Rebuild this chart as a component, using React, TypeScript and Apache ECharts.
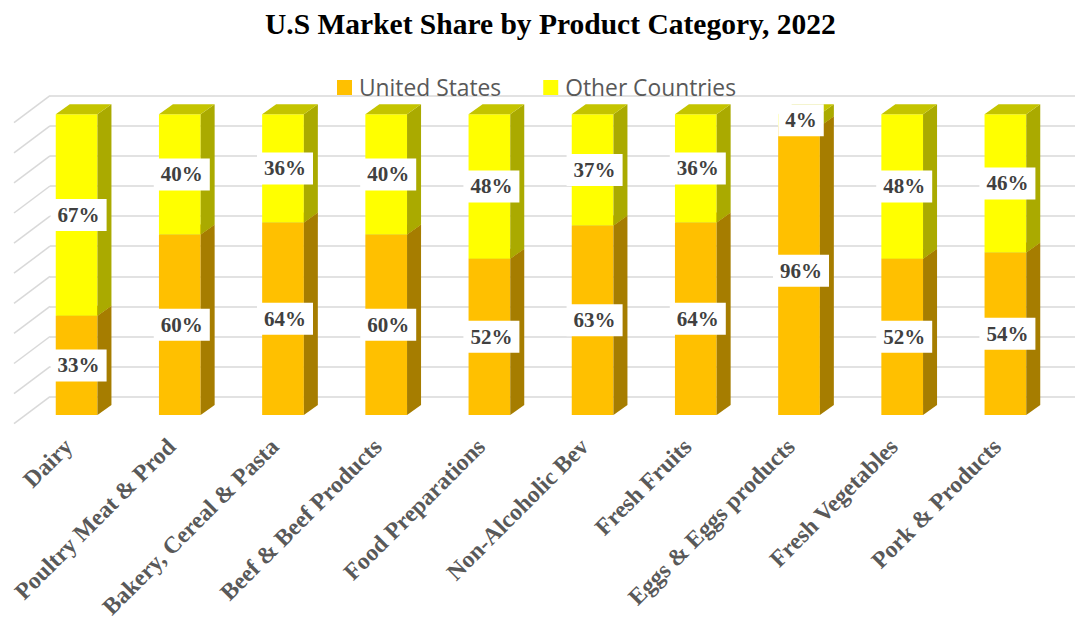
import React, { useEffect, useRef } from "react";
import * as echarts from "echarts";

const categories = [
  "Dairy",
  "Poultry Meat & Prod",
  "Bakery, Cereal & Pasta",
  "Beef & Beef Products",
  "Food Preparations",
  "Non-Alcoholic Bev",
  "Fresh Fruits",
  "Eggs & Eggs products",
  "Fresh Vegetables",
  "Pork & Products",
];
const unitedStates = [33, 60, 64, 60, 52, 63, 64, 96, 52, 54];
const otherCountries = [67, 40, 36, 40, 48, 37, 36, 4, 48, 46];
const gridTicks = [0, 10, 20, 30, 40, 50, 60, 70, 80, 90, 100];

const DEPTH_X = 14;
const DEPTH_Y = 10;
const WALL_DX = 36;
const WALL_DY = 27;

function makeBarRenderer(front: string, side: string, top: string) {
  return (params: any, api: any) => {
    const i = api.value(0);
    const base = api.value(1);
    const val = api.value(2);
    const p0 = api.coord([i, base]);
    const p1 = api.coord([i, base + val]);
    const band = api.size([1, 0])[0];
    const w = band * 0.404;
    const xl = p0[0] - w / 2;
    const xr = xl + w;
    const yb = p0[1];
    const yt = p1[1];
    return {
      type: "group",
      children: [
        {
          type: "rect",
          shape: { x: xl, y: yt, width: w, height: yb - yt },
          style: { fill: front },
        },
        {
          type: "polygon",
          shape: {
            points: [
              [xr, yb],
              [xr + DEPTH_X, yb - DEPTH_Y],
              [xr + DEPTH_X, yt - DEPTH_Y],
              [xr, yt],
            ],
          },
          style: { fill: side },
        },
        {
          type: "polygon",
          shape: {
            points: [
              [xl, yt],
              [xl + DEPTH_X, yt - DEPTH_Y],
              [xr + DEPTH_X, yt - DEPTH_Y],
              [xr, yt],
            ],
          },
          style: { fill: top },
        },
        {
          type: "text",
          x: p0[0] + 2,
          y: (yb + yt) / 2,
          z2: 100,
          style: {
            text: val + "%",
            fill: "#404040",
            fontSize: 21,
            fontWeight: "bold",
            fontFamily: '"Liberation Serif", "Times New Roman", serif',
            align: "center",
            verticalAlign: "middle",
            backgroundColor: "#ffffff",
            padding: [6, 7, 5, 7],
          },
        },
      ],
    };
  };
}

export default function App() {
  const ref = useRef<HTMLDivElement>(null);

  useEffect(() => {
    if (!ref.current) return;
    const chart = echarts.init(ref.current, undefined, { renderer: "svg" });

    const usData = unitedStates.map((v, i) => [i, 0, v]);
    const otherData = otherCountries.map((v, i) => [i, unitedStates[i], v]);

    const option: any = {
      animation: false,
      backgroundColor: "#ffffff",
      title: {
        text: "U.S Market Share by Product Category, 2022",
        left: 260,
        top: 4,
        textStyle: {
          fontFamily: '"Liberation Serif", "Times New Roman", serif',
          fontWeight: "bold",
          fontSize: 29.5,
          color: "#000000",
        },
      },
      legend: {
        top: 71,
        left: 332,
        itemWidth: 15,
        itemHeight: 15,
        itemGap: 42,
        icon: "rect",
        textStyle: {
          fontFamily: '"Open Sans", sans-serif',
          fontSize: 22.8,
          color: "#595959",
          padding: [0, 0, 0, 2],
        },
        data: ["United States", "Other Countries"],
      },
      grid: [
        { left: 50, right: 0, top: 95.7, bottom: 225.3, outerBoundsMode: "none", containLabel: false },
        { left: 25, right: 18, top: 114.3, bottom: 207, outerBoundsMode: "none", containLabel: false },
      ],
      xAxis: [
        {
          gridIndex: 0,
          type: "value",
          min: 0,
          max: 1,
          show: false,
        },
        {
          gridIndex: 1,
          type: "category",
          data: categories,
          axisLine: { show: false },
          axisTick: { show: false },
          axisLabel: {
            rotate: 45,
            margin: 36,
            interval: 0,
            verticalAlign: "bottom",
            color: "#595959",
            fontFamily: '"Liberation Serif", "Times New Roman", serif',
            fontWeight: "bold",
            fontSize: 23.7,
          },
        },
      ],
      yAxis: [
        {
          gridIndex: 0,
          type: "value",
          min: 0,
          max: 100,
          interval: 10,
          axisLine: { show: false },
          axisTick: { show: false },
          axisLabel: { show: false },
          splitLine: { show: true, lineStyle: { color: "#D9D9D9", width: 1.5 } },
        },
        {
          gridIndex: 1,
          type: "value",
          min: 0,
          max: 100,
          show: false,
          splitLine: { show: false },
        },
      ],
      series: [
        {
          type: "custom",
          name: "wall",
          xAxisIndex: 0,
          yAxisIndex: 0,
          silent: true,
          data: gridTicks.map((t) => [0, t]),
          renderItem: (params: any, api: any) => {
            const p = api.coord([0, api.value(1)]);
            return {
              type: "line",
              shape: { x1: p[0], y1: p[1], x2: p[0] - WALL_DX, y2: p[1] + WALL_DY },
              style: { stroke: "#D9D9D9", lineWidth: 1.5 },
            };
          },
        },
        {
          type: "custom",
          name: "United States",
          xAxisIndex: 1,
          yAxisIndex: 1,
          itemStyle: { color: "#FFC000" },
          data: usData,
          encode: { x: 0, y: [1, 2] },
          renderItem: makeBarRenderer("#FFC000", "#A67D00", "#C49400"),
        },
        {
          type: "custom",
          name: "Other Countries",
          xAxisIndex: 1,
          yAxisIndex: 1,
          itemStyle: { color: "#FFFF00" },
          data: otherData,
          encode: { x: 0, y: [1, 2] },
          renderItem: makeBarRenderer("#FFFF00", "#AAAA00", "#C4C400"),
        },
      ],
    };

    chart.setOption(option);
    return () => {
      chart.dispose();
    };
  }, []);

  return (
    <div
      ref={ref}
      style={{ position: "fixed", left: 0, top: 0, width: 1075, height: 622 }}
    />
  );
}
